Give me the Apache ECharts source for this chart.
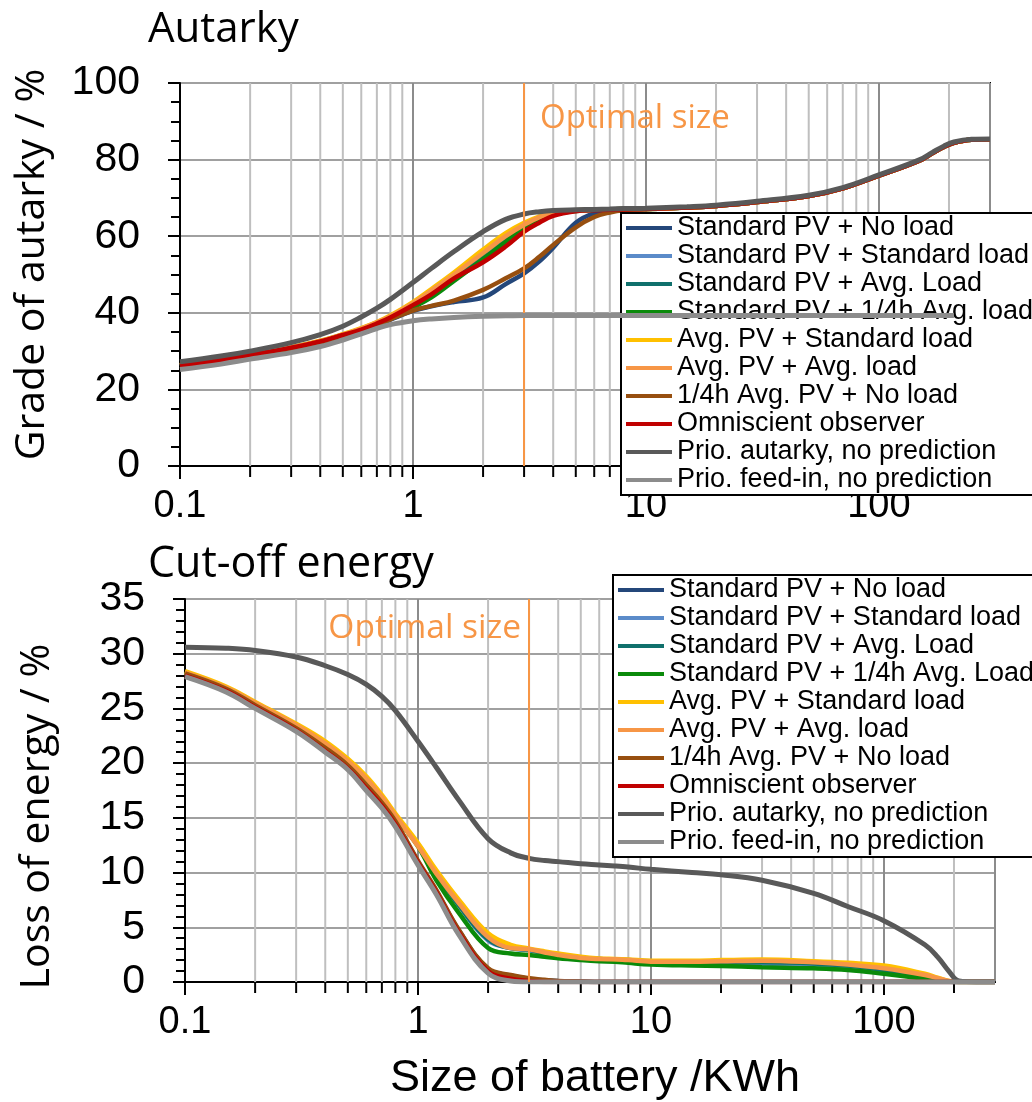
<!DOCTYPE html>
<html><head><meta charset="utf-8">
<script src="https://cdn.jsdelivr.net/npm/echarts@6/dist/echarts.min.js"></script>
<style>html,body{margin:0;padding:0;background:#fff}#c{width:1032px;height:1102px}</style>
</head><body><div id="c"></div>
<script>
// ---------- shared x values (battery size, kWh) ----------
const batterySize = [0.1,0.15,0.2,0.3,0.4,0.5,0.6,0.7,0.8,1,1.2,1.5,2,2.5,3,3.5,4,5,6,7,8,10,15,20,30,50,70,100,150,170,190,210,250,300];
const seriesNames = ['Standard PV + No load','Standard PV + Standard load','Standard PV + Avg. Load','Standard PV + 1/4h Avg. load','Avg. PV + Standard load','Avg. PV + Avg. load','1/4h Avg. PV + No load','Omniscient observer','Prio. autarky, no prediction','Prio. feed-in, no prediction'];
const seriesNamesBottom = ['Standard PV + No load','Standard PV + Standard load','Standard PV + Avg. Load','Standard PV + 1/4h Avg. Load','Avg. PV + Standard load','Avg. PV + Avg. load','1/4h Avg. PV + No load','Omniscient observer','Prio. autarky, no prediction','Prio. feed-in, no prediction'];
const seriesColors = ['#24477a','#5b8bc9','#10706c','#0a8a0a','#ffc000','#f79646','#974f0f','#c00000','#595959','#8c8c8c'];
const minorTickValues = [0.2,0.3,0.4,0.5,0.6,0.7,0.8,0.9,2,3,4,5,6,7,8,9,20,30,40,50,60,70,80,90,200];
const optimalSize = 3;
const autarkyAxis = {min:0, max:100, interval:20};
const cutoffAxis = {min:0, max:35, interval:5};
const xRange = {min:0.1, max:300};

// ---------- Autarky (%) ----------
const autStdNoLoad      = [25.9,27.4,28.7,30.5,32.2,33.7,35.2,36.7,38.2,40.5,41.7,42.8,44.0,47.5,50.3,53.5,57.0,63.5,66.0,66.7,66.9,67.1,67.5,67.9,68.9,70.5,72.5,75.8,79.8,81.7,83.3,84.4,85.2,85.3];
const autStdStdLoad     = [26.3,27.7,29.0,30.9,32.6,34.3,35.8,37.4,39.0,42.4,45.6,49.6,55.0,59.5,62.6,64.8,65.9,66.7,66.9,67.0,67.1,67.1,67.5,67.9,68.9,70.5,72.5,75.8,79.8,81.7,83.3,84.4,85.2,85.3];
const autStdAvgLoad     = [26.3,27.7,29.0,30.9,32.5,34.2,35.8,37.3,38.9,42.2,45.3,49.4,54.6,59.0,62.5,64.8,66.0,66.7,66.9,67.0,67.1,67.1,67.5,67.9,68.9,70.5,72.5,75.8,79.8,81.7,83.3,84.4,85.2,85.3];
const autStdQuarterLoad = [26.2,27.7,29.0,30.8,32.4,34.0,35.5,37.0,38.6,41.4,44.0,48.3,54.0,58.5,62.0,64.5,65.8,66.6,66.9,67.0,67.1,67.1,67.5,67.9,68.9,70.5,72.5,75.8,79.8,81.7,83.3,84.4,85.2,85.3];
const autAvgPvStdLoad   = [26.4,27.8,29.1,31.0,32.7,34.4,36.0,37.6,39.3,42.8,46.2,50.5,56.5,60.8,63.5,65.2,66.2,66.8,66.9,67.0,67.1,67.1,67.5,67.9,68.9,70.5,72.5,75.8,79.8,81.7,83.3,84.4,85.2,85.3];
const autAvgPvAvgLoad   = [26.3,27.8,29.1,31.0,32.6,34.3,35.9,37.5,39.1,42.5,45.8,50.0,55.6,60.0,63.0,65.0,66.0,66.7,66.9,67.0,67.1,67.1,67.5,67.9,68.9,70.5,72.5,75.8,79.8,81.7,83.3,84.4,85.2,85.3];
const autQuarterPvNoLoad= [26.0,27.5,28.8,30.6,32.3,33.8,35.3,36.8,38.3,40.6,41.8,43.2,46.0,49.0,51.6,54.7,57.7,62.3,65.0,66.2,66.8,67.1,67.5,67.9,68.9,70.5,72.5,75.8,79.8,81.7,83.3,84.4,85.2,85.3];
const autOmniscient     = [26.2,27.7,29.0,30.9,32.5,34.2,35.6,37.2,38.8,42.0,44.8,49.0,53.2,57.3,61.2,63.6,65.3,66.5,66.8,66.9,67.0,67.1,67.5,67.9,68.9,70.5,72.5,75.8,79.8,81.7,83.3,84.4,85.2,85.3];
const autPrioAutarky    = [27.2,28.7,30.0,32.2,34.3,36.5,38.9,41.2,43.5,47.9,51.6,56.0,61.2,64.4,65.8,66.4,66.7,66.9,67.0,67.1,67.2,67.3,67.7,68.1,69.1,70.7,72.7,76.0,80.0,81.9,83.5,84.6,85.3,85.4];
const autPrioFeedIn     = [25.2,26.6,27.9,29.6,31.2,32.9,34.5,35.9,36.9,37.9,38.4,38.8,39.1,39.2,39.3,39.3,39.3,39.3,39.3,39.3,39.3,39.3,39.3,39.3,39.3,39.3,39.3,39.3,39.3,39.3,39.3,39.3,null,null];

// ---------- Cut-off energy (%) ----------
const cutStdNoLoad      = [28.1,26.7,25.2,23.1,21.3,19.7,17.9,16.3,14.6,11.0,8.3,4.7,1.2,0.6,0.3,0.15,0.1,0.05,0,0,0,0,0,0,0,0,0,0,0,0,0,0,0,0];
const cutStdStdLoad     = [28.3,26.9,25.5,23.5,21.8,20.2,18.6,16.9,15.2,12.6,10.0,7.0,3.8,3.1,2.9,2.6,2.4,2.2,2.1,2.0,1.9,1.8,1.7,1.6,1.5,1.4,1.3,0.9,0.45,0.25,0.05,0,0,0];
const cutStdAvgLoad     = [28.3,26.9,25.5,23.5,21.8,20.2,18.6,16.9,15.2,12.5,9.9,7.0,3.9,3.1,2.95,2.65,2.45,2.2,2.1,2.05,2.0,1.9,1.85,1.8,1.8,1.7,1.5,1.1,0.5,0.3,0.05,0,0,0];
const cutStdQuarterLoad = [28.3,26.9,25.5,23.5,21.8,20.2,18.6,16.9,15.2,12.4,9.3,6.3,3.1,2.6,2.47,2.3,2.16,2.0,1.9,1.86,1.75,1.6,1.5,1.46,1.35,1.25,1.1,0.75,0.3,0.15,0.05,0,0,0];
const cutAvgPvStdLoad   = [28.4,27.0,25.6,23.6,22.0,20.4,18.8,17.1,15.4,12.7,10.2,7.5,4.45,3.4,3.05,2.8,2.6,2.3,2.15,2.1,2.05,1.95,1.95,2.0,2.05,1.9,1.75,1.5,0.75,0.4,0.1,0,0,0];
const cutAvgPvAvgLoad   = [28.3,26.9,25.5,23.5,21.8,20.2,18.6,16.9,15.2,12.4,9.9,7.2,4.1,3.1,3.0,2.7,2.47,2.2,2.1,2.07,2.0,1.86,1.86,1.9,1.95,1.8,1.6,1.25,0.64,0.35,0.1,0,0,0];
const cutQuarterPvNoLoad= [28.2,26.8,25.3,23.2,21.4,19.8,18.0,16.4,14.7,11.1,8.4,4.75,1.25,0.64,0.34,0.2,0.1,0.05,0,0,0,0,0,0,0,0,0,0,0,0,0,0,0,0];
const cutOmniscient     = [28.0,26.6,25.1,23.0,21.1,19.5,17.7,16.1,14.4,10.9,8.2,4.5,1.0,0.3,0.1,0,0,0,0,0,0,0,0,0,0,0,0,0,0,0,0,0,0,0];
const cutPrioAutarky    = [30.6,30.5,30.3,29.7,28.9,28.1,27.2,26.1,24.8,22.0,19.6,16.6,13.1,11.8,11.3,11.1,11.0,10.8,10.7,10.6,10.5,10.3,10.0,9.8,9.3,8.1,6.9,5.6,3.4,2.3,1.0,0.1,0,0];
const cutPrioFeedIn     = [27.9,26.5,25.0,22.9,21.0,19.4,17.5,15.9,14.2,10.7,8.0,4.3,0.8,0.1,0,0,0,0,0,0,0,0,0,0,0,0,0,0,0,0,0,0,0,0];

const topValues = [autStdNoLoad,autStdStdLoad,autStdAvgLoad,autStdQuarterLoad,autAvgPvStdLoad,autAvgPvAvgLoad,autQuarterPvNoLoad,autOmniscient,autPrioAutarky,autPrioFeedIn];
const bottomValues = [cutStdNoLoad,cutStdStdLoad,cutStdAvgLoad,cutStdQuarterLoad,cutAvgPvStdLoad,cutAvgPvAvgLoad,cutQuarterPvNoLoad,cutOmniscient,cutPrioAutarky,cutPrioFeedIn];

const LABEL_FONT = 'Liberation Sans';
const TITLE_FONT = 'Open Sans';

function fmtLog(v){
  const e = Math.log10(v);
  if (Math.abs(e - Math.round(e)) > 1e-6) return '';
  return String(+Math.pow(10, Math.round(e)).toPrecision(3));
}

function makeLines(values, names, g, feedInZ){
  return values.map((vals, i) => {
    const s = {
      name: names[i], type:'line', xAxisIndex:g, yAxisIndex:g,
      data: batterySize.map((x,k)=>[x, vals[k]]).filter(p => p[1] !== null),
      smooth: 0.4, symbol:'none', showSymbol:false,
      lineStyle:{color:seriesColors[i], width: i >= 8 ? 5 : 4.5},
      itemStyle:{color:seriesColors[i]},
      z: i === 9 ? feedInZ : 3,
      animation:false, silent:true
    };
    if (i === 9) {
      s.markLine = {silent:true, symbol:'none', animation:false, label:{show:false},
        lineStyle:{color:'#f79646', width:2, type:'solid'}, data:[{xAxis: optimalSize}]};
    }
    return s;
  });
}

function minorGrid(g, yMin, yMax){
  return {
    type:'custom', name:'minor-grid-'+g, xAxisIndex:g, yAxisIndex:g, z:1, silent:true, animation:false,
    data: minorTickValues.map(v => [v, yMin]),
    encode:{x:0, y:1},
    renderItem(params, api){
      const x = api.value(0);
      const top = api.coord([x, yMax]);
      const bot = api.coord([x, yMin]);
      return {type:'group', children:[
        {type:'line', shape:{x1:bot[0], y1:top[1], x2:bot[0], y2:bot[1]}, style:{stroke:'#bfbfbf', lineWidth:2}},
        {type:'line', shape:{x1:bot[0], y1:bot[1], x2:bot[0], y2:bot[1]+11}, style:{stroke:'#000', lineWidth:2}}
      ]};
    }
  };
}

function xAxisDef(g, withName){
  const a = {
    type:'log', logBase:10, gridIndex:g, min:xRange.min, max:xRange.max,
    axisLine:{show:true, lineStyle:{color:'#000', width:2}},
    axisTick:{show:true, length:13, lineStyle:{color:'#000', width:2}},
    axisLabel:{formatter:fmtLog, fontFamily:LABEL_FONT, fontSize:38, color:'#000', margin:22, showMaxLabel:false},
    splitLine:{show:true, lineStyle:{color:'#8c8c8c', width:2}},
    minorTick:{show:false}, minorSplitLine:{show:false}
  };
  if (withName) {
    a.name = 'Size of battery /KWh';
    a.nameLocation = 'middle';
    a.nameGap = 74;
    a.nameTextStyle = {fontFamily:LABEL_FONT, fontSize:45, color:'#000', padding:[0,0,0,10]};
  }
  return a;
}

function yAxisDef(g, cfg, name, minorSplit, pad){
  return {
    type:'value', gridIndex:g, min:cfg.min, max:cfg.max, interval:cfg.interval,
    name:name, nameLocation:'middle', nameGap:127, nameRotate:90,
    nameTextStyle:{fontFamily:TITLE_FONT, fontSize:41, color:'#000', padding:pad},
    axisLine:{show:true, lineStyle:{color:'#000', width:2}},
    axisTick:{show:true, length:12, lineStyle:{color:'#000', width:2}},
    minorTick:{show:true, splitNumber:minorSplit, length:9, lineStyle:{color:'#000', width:2}},
    axisLabel:{fontFamily:LABEL_FONT, fontSize:41, color:'#000', margin:40},
    splitLine:{show:true, lineStyle:{color:'#a0a0a0', width:2}}
  };
}

function legendDef(left, top, names){
  return {
    data:names, orient:'vertical', left:left, top:top, icon:'rect', itemWidth:46, itemHeight:4, itemGap:0,
    selectedMode:false,
    textStyle:{fontFamily:LABEL_FONT, fontSize:27, lineHeight:28, color:'#000'},
    backgroundColor:'#fff', borderColor:'#000', borderWidth:2, borderRadius:0, padding:[1,80,1,5]
  };
}

const chart = echarts.init(document.getElementById('c'), null, {renderer:'canvas', width:1032, height:1102});
chart.setOption({
  animation:false,
  backgroundColor:'#fff',
  title:[
    {text:'Autarky', left:143, top:4, textStyle:{fontFamily:TITLE_FONT, fontSize:42, fontWeight:'normal', color:'#000'}},
    {text:'Cut-off energy', left:143, top:538, textStyle:{fontFamily:TITLE_FONT, fontSize:43, fontWeight:'normal', color:'#000'}}
  ],
  grid:[
    {left:180, top:83, width:810, height:383, show:true, borderColor:'#000', borderWidth:2, backgroundColor:'transparent'},
    {left:185, top:599, width:810, height:383, show:true, borderColor:'#000', borderWidth:2, backgroundColor:'transparent'}
  ],
  xAxis:[xAxisDef(0,false), xAxisDef(1,true)],
  yAxis:[
    yAxisDef(0, autarkyAxis, 'Grade of autarky / %', 4, [0,0,0,20]),
    yAxisDef(1, cutoffAxis, 'Loss of energy / %', 5, [0,52,0,0])
  ],
  legend:[legendDef(621, 213, seriesNames), legendDef(613, 575, seriesNamesBottom)],
  graphic:[
    {type:'text', x:540, y:119, z:10, style:{text:'Optimal size', fontFamily:TITLE_FONT, fontSize:33, fill:'#f79646', align:'left', verticalAlign:'middle'}},
    {type:'text', x:521, y:628, z:10, style:{text:'Optimal size', fontFamily:TITLE_FONT, fontSize:33.5, fill:'#f79646', align:'right', verticalAlign:'middle'}}
  ],
  series:[
    minorGrid(0, autarkyAxis.min, autarkyAxis.max),
    minorGrid(1, cutoffAxis.min, cutoffAxis.max),
    ...makeLines(topValues, seriesNames, 0, 6),
    ...makeLines(bottomValues, seriesNamesBottom, 1, 3)
  ]
});
</script></body></html>
